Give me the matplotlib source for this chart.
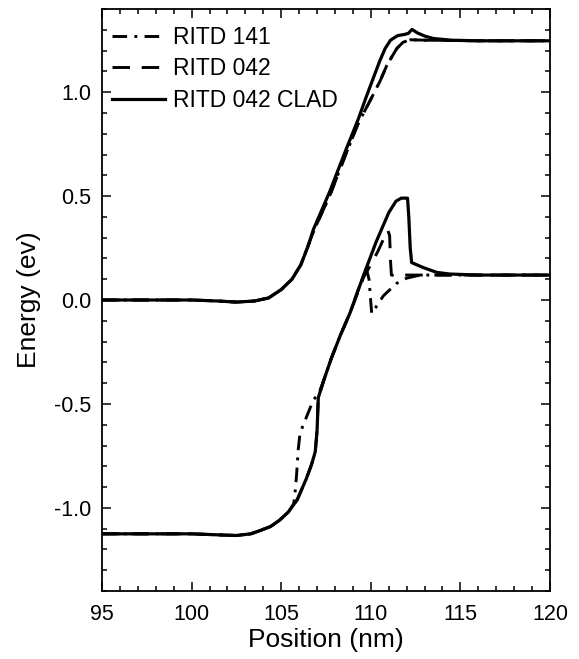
import numpy as np
import matplotlib.pyplot as plt
from matplotlib.ticker import MultipleLocator

plt.rcParams['font.family'] = ['Liberation Sans', 'DejaVu Sans']

#------------------------- BAND PROFILES -------------------------
# conduction band edge, RITD 042 CLAD (solid)
x_cb_clad = [95, 100, 101.5, 102.5, 103.5, 104.3, 105.0, 105.6, 106.1, 106.5, 106.8,
             107.7, 108.6, 109.3, 109.8, 110.5, 110.8, 111.1, 111.5, 111.9, 112.1,
             112.3, 112.6, 113.0, 113.5, 114.5, 116, 120]
y_cb_clad = [0, 0, -0.005, -0.01, -0.005, 0.01, 0.05, 0.10, 0.17, 0.26, 0.34,
             0.52, 0.72, 0.87, 0.99, 1.15, 1.21, 1.25, 1.272, 1.278, 1.283,
             1.302, 1.285, 1.27, 1.258, 1.25, 1.247, 1.247]

# conduction band edge, RITD 042 / RITD 141 (same profile)
x_cb_042 = [95, 100, 101.5, 102.5, 103.5, 104.3, 105.0, 105.6, 106.1, 106.5, 106.8,
            107.7, 108.6, 109.3, 110.05, 110.5, 110.9, 111.45, 111.8, 112.2, 113, 116, 120]
y_cb_042 = [0, 0, -0.005, -0.01, -0.005, 0.01, 0.05, 0.10, 0.17, 0.26, 0.33,
            0.50, 0.70, 0.85, 0.974, 1.05, 1.13, 1.21, 1.24, 1.252, 1.25, 1.247, 1.247]

# valence band edge, RITD 042 CLAD
x_vb_clad = [95, 100, 101.5, 102.5, 103.3, 103.8, 104.4, 104.9, 105.4, 105.9, 106.4,
             106.7, 106.9, 107.0, 107.07, 107.4, 107.8, 108.3, 108.85, 109.6, 110.3,
             111.0, 111.4, 111.7, 112.05, 112.12, 112.2, 112.28, 112.9, 113.67, 114.4,
             116, 120]
y_vb_clad = [-1.125, -1.125, -1.13, -1.133, -1.125, -1.11, -1.09, -1.06, -1.02, -0.96, -0.86,
             -0.79, -0.73, -0.63, -0.47, -0.38, -0.28, -0.17, -0.06, 0.12, 0.28,
             0.42, 0.475, 0.49, 0.49, 0.40, 0.25, 0.18, 0.157, 0.133, 0.125,
             0.12, 0.12]

# valence band edge, RITD 042
x_vb_042 = [95, 100, 101.5, 102.5, 103.3, 103.8, 104.4, 104.9, 105.4, 105.9, 106.4,
            106.7, 106.9, 107.0, 107.07, 107.4, 107.8, 108.3, 108.85, 109.6, 110.0,
            110.4, 110.8, 110.95, 111.05, 111.1, 111.15, 111.5, 112.0, 114, 120]
y_vb_042 = [-1.125, -1.125, -1.13, -1.133, -1.125, -1.11, -1.09, -1.06, -1.02, -0.96, -0.86,
            -0.79, -0.73, -0.63, -0.47, -0.38, -0.28, -0.17, -0.06, 0.11, 0.17,
            0.235, 0.31, 0.335, 0.31, 0.19, 0.12, 0.115, 0.12, 0.12, 0.12]

# valence band edge, RITD 141
x_vb_141 = [95, 100, 101.5, 102.5, 103.3, 103.8, 104.4, 104.9, 105.4, 105.7, 105.77,
            105.86, 105.95, 106.05, 106.4, 106.8, 107.1, 107.4, 107.8, 108.3, 108.85,
            109.3, 109.75, 109.9, 110.05, 110.7, 111.44, 112.0, 112.6, 113.2, 120]
y_vb_141 = [-1.125, -1.125, -1.13, -1.133, -1.125, -1.11, -1.09, -1.06, -1.02, -0.98, -0.93,
            -0.84, -0.72, -0.64, -0.565, -0.48, -0.45, -0.38, -0.28, -0.17, -0.06,
            0.05, 0.15, 0.10, -0.065, 0.02, 0.08, 0.105, 0.117, 0.12, 0.12]

labels = ['RITD 141', 'RITD 042', 'RITD 042 CLAD']

#------------------------- FIGURE -------------------------
fig = plt.figure(figsize=(5.79, 6.59), dpi=100)
ax = fig.add_axes([102/579, 68/659, 448/579, 582/659])

lw = 2.1
dashdot = (0, (5, 2.5, 1, 2.5))
dashed = (0, (6, 4))

ax.plot(x_cb_042, y_cb_042, color='k', lw=lw, ls=dashdot, label=labels[0])
ax.plot(x_vb_141, y_vb_141, color='k', lw=lw, ls=dashdot)
ax.plot(x_cb_042, y_cb_042, color='k', lw=lw, ls=dashed, label=labels[1])
ax.plot(x_vb_042, y_vb_042, color='k', lw=lw, ls=dashed)
ax.plot(x_cb_clad, y_cb_clad, color='k', lw=2.3, ls='-', label=labels[2])
ax.plot(x_vb_clad, y_vb_clad, color='k', lw=2.3, ls='-')

ax.set_xlim(95, 120)
ax.set_ylim(-1.4, 1.4)
ax.xaxis.set_major_locator(MultipleLocator(5))
ax.xaxis.set_minor_locator(MultipleLocator(1))
ax.yaxis.set_major_locator(MultipleLocator(0.5))
ax.yaxis.set_minor_locator(MultipleLocator(0.1))
ax.tick_params(which='both', direction='in', top=True, right=True, width=1.1,
               labelsize=15.5)
ax.tick_params(which='major', length=6.5, pad=8)
ax.tick_params(axis='x', which='major', pad=9.5)
ax.tick_params(which='minor', length=3.5)
ax.yaxis.set_major_formatter(plt.FuncFormatter(lambda v, p: '%.1f' % v))
for s in ax.spines.values():
    s.set_linewidth(1.3)

ax.set_xlabel('Position (nm)', fontsize=19, labelpad=2)
ax.set_ylabel('Energy (ev)', fontsize=19, labelpad=9)

ax.legend(loc='upper left', bbox_to_anchor=(0.007, 0.983), frameon=False,
          fontsize=16.5, handlelength=2.3, handletextpad=0.35, labelspacing=0.38,
          borderaxespad=0, borderpad=0.3)

fig.savefig('out.png', dpi=100)
